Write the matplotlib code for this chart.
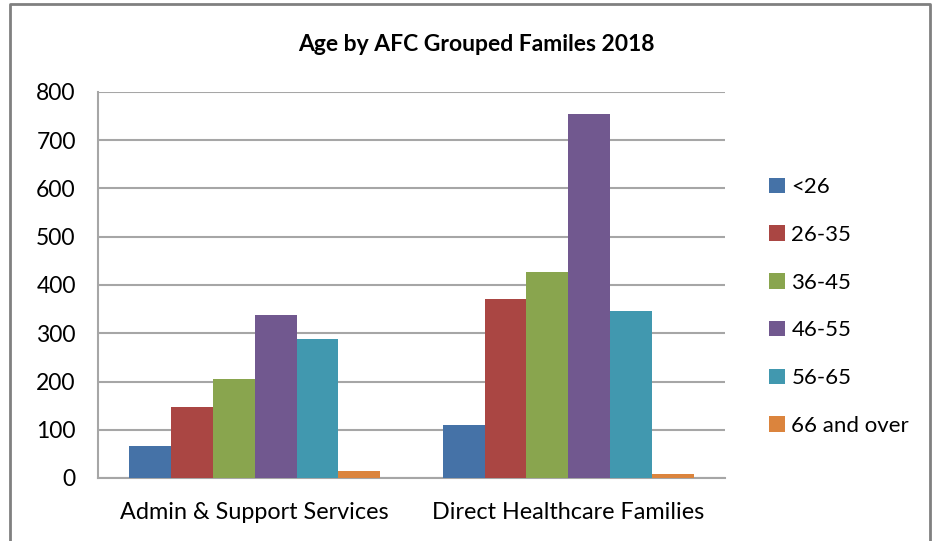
import matplotlib.pyplot as plt
import numpy as np
from matplotlib.lines import Line2D

groups = ['Admin & Support Services', 'Direct Healthcare Families']
ages = ['<26', '26-35', '36-45', '46-55', '56-65', '66 and over']
admin = [67, 147, 205, 338, 288, 14]
direct = [109, 371, 426, 754, 346, 8]
colors = ['#4572a7', '#aa4643', '#89a54e', '#71588f', '#4198af', '#db843d']

plt.rcParams['font.family'] = ['Lato', 'DejaVu Sans']

W, H = 941, 541
fig = plt.figure(figsize=(W / 100, H / 100), dpi=100)
ax = fig.add_axes([98 / W, 1 - 478 / H, (725 - 98) / W, (478 - 92) / H])

x = np.arange(len(groups))
bw = 0.8 / len(ages)
for i, lab in enumerate(ages):
    vals = [admin[i], direct[i]]
    ax.bar(x - 0.4 + bw * (i + 0.5), vals, width=bw, color=colors[i],
           label=lab, zorder=3)

ax.set_xlim(-0.5, 1.5)
ax.set_ylim(0, 800)
ax.set_yticks(range(0, 801, 100))
ax.set_xticks(x)
ax.set_xticklabels(groups, fontsize=16.8)
ax.tick_params(axis='y', labelsize=16.5, length=0, pad=16)
ax.tick_params(axis='x', length=0, pad=17)
ax.grid(axis='y', color='#a6a6a6', linewidth=1.5, zorder=0)
for s in ['top', 'right']:
    ax.spines[s].set_visible(False)
for s in ['left', 'bottom']:
    ax.spines[s].set_color('#a6a6a6')
    ax.spines[s].set_linewidth(1.5)

fig.text(476 / W, 1 - 45 / H, 'Age by AFC Grouped Familes 2018',
         ha='center', va='center', fontsize=16.5, fontweight='bold')

ax.legend(loc='upper left', bbox_to_anchor=(758 / W, 1 - 166 / H),
          bbox_transform=fig.transFigure, frameon=False, fontsize=16,
          handlelength=0.7, handleheight=0.7, handletextpad=0.3,
          labelspacing=1.25, borderpad=0)

# outer chart frame
fig.add_artist(Line2D([10 / W, 10 / W, 930 / W, 930 / W],
                      [0, 1 - 4 / H, 1 - 4 / H, 0],
                      transform=fig.transFigure, color='#808080', linewidth=2))

fig.savefig('out.png', dpi=100)
